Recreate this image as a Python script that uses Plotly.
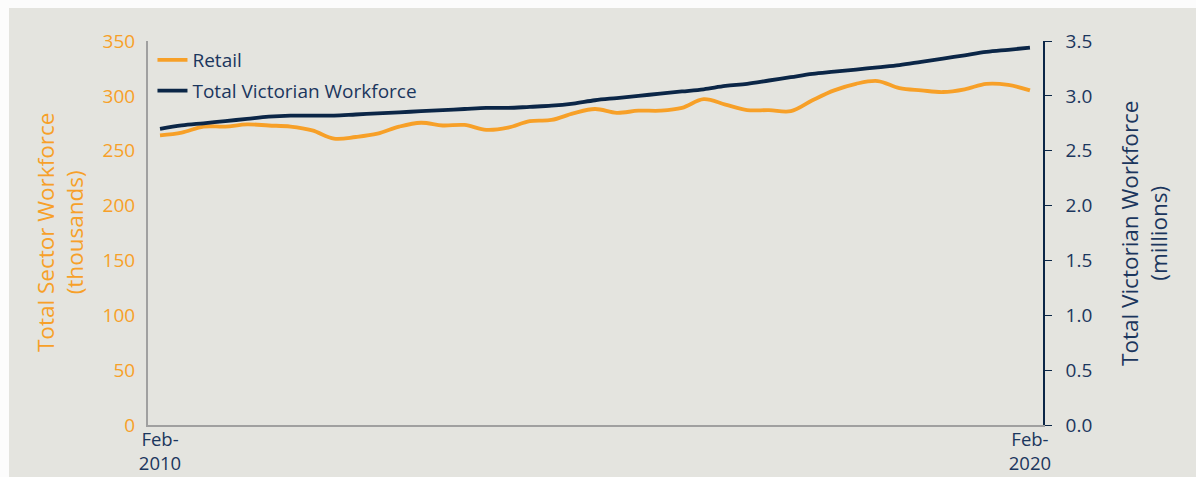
import plotly.graph_objects as go

quarters = []
for yr in range(2010, 2021):
    for m in ["Feb", "May", "Aug", "Nov"]:
        quarters.append(f"{m}-{yr}")
quarters = quarters[:41]

retail_thousands = [264, 266.5, 272, 272, 274, 273, 272, 268.5, 261, 262.5,
                    265.5, 272, 275.5, 273, 273.5, 269, 271, 277, 278, 284,
                    288, 284.5, 286.5, 286.5, 289, 297, 292, 287, 287, 286,
                    296, 305, 311, 313.5, 307, 305, 303.5, 306, 311, 310, 305]

victoria_millions = [2.70, 2.73, 2.75, 2.77, 2.79, 2.81, 2.82, 2.82, 2.82, 2.83,
                     2.84, 2.85, 2.86, 2.87, 2.88, 2.89, 2.89, 2.90, 2.91, 2.93,
                     2.96, 2.98, 3.00, 3.02, 3.04, 3.06, 3.09, 3.11, 3.14, 3.17,
                     3.20, 3.22, 3.24, 3.26, 3.28, 3.31, 3.34, 3.37, 3.40, 3.42, 3.44]

tick_labels = ["Feb-<br>2010", "Feb-<br>2020"]

ORANGE = "#F7A028"
NAVY = "#0B2647"
NAVY_TXT = "#1B365D"
BG = "#E4E4DF"
EDGE = "#FCFCFC"
FONT = "Open Sans"

W, H = 1196, 477
ML, MR, MT, MB = 148, 153, 41, 52
PW, PH = W - ML - MR, H - MT - MB

fig = go.Figure()
fig.add_trace(go.Scatter(x=quarters, y=retail_thousands, name="Retail",
                         mode="lines", line=dict(color=ORANGE, width=3.8, shape="spline"),
                         yaxis="y", legendgroup="a"))
fig.add_trace(go.Scatter(x=quarters, y=victoria_millions, name="Total Victorian Workforce",
                         mode="lines", line=dict(color=NAVY, width=3.8, shape="spline"),
                         yaxis="y2", legendgroup="b"))

# light border strips along the top and left edges
x_left = -ML / PW
y_top = 1 + MT / PH
y_bot = -MB / PH
fig.add_annotation(text="\u00a0", xref="paper", yref="paper", x=x_left, y=y_top,
                   xanchor="left", yanchor="top", showarrow=False,
                   width=W, height=8, bgcolor=EDGE, borderpad=0, borderwidth=0,
                   font=dict(size=4))
fig.add_annotation(text="\u00a0", xref="paper", yref="paper", x=x_left, y=y_bot,
                   xanchor="left", yanchor="bottom", showarrow=False,
                   width=9, height=H, bgcolor=EDGE, borderpad=0, borderwidth=0,
                   font=dict(size=4))

fig.add_annotation(text="Total Sector Workforce<br>(thousands)", textangle=-90,
                   xref="paper", yref="paper", x=-0.0983, y=0.5,
                   xanchor="center", yanchor="middle", showarrow=False,
                   font=dict(size=22.5, color=ORANGE))
fig.add_annotation(text="Total Victorian Workforce<br>(millions)", textangle=-90,
                   xref="paper", yref="paper", x=1.1128, y=0.5,
                   xanchor="center", yanchor="middle", showarrow=False,
                   font=dict(size=22.5, color=NAVY_TXT))

fig.update_layout(
    width=W, height=H,
    margin=dict(l=ML, r=MR, t=MT, b=MB),
    paper_bgcolor=BG,
    plot_bgcolor="rgba(0,0,0,0)",
    font=dict(family=FONT, size=19, color=NAVY_TXT),
    showlegend=True,
    legend=dict(x=0.005, y=1.0, xanchor="left", yanchor="top",
                bgcolor="rgba(0,0,0,0)", font=dict(size=19, color=NAVY_TXT),
                itemwidth=30, tracegroupgap=3),
    xaxis=dict(type="category", range=[-0.552, 40.6], automargin=False,
               tickmode="array", tickvals=[quarters[0], quarters[40]], ticktext=tick_labels,
               showgrid=False, showline=True, linecolor="#A0A0A0", linewidth=2,
               ticks="", ticklabelstandoff=-3,
               tickfont=dict(size=18.5, color=NAVY_TXT), zeroline=False),
    yaxis=dict(range=[0, 350], dtick=50, showgrid=False, showline=True, automargin=False,
               linecolor="#A0A0A0", linewidth=2, ticks="", zeroline=False,
               ticklabelstandoff=7,
               tickfont=dict(size=19, color=ORANGE)),
    yaxis2=dict(range=[0, 3.5], dtick=0.5, tickformat=".1f", overlaying="y", side="right",
                showgrid=False, showline=True, linecolor=NAVY, linewidth=1.5, automargin=False,
                ticks="outside", ticklen=7, tickcolor=NAVY, zeroline=False,
                ticklabelstandoff=10,
                tickfont=dict(size=19, color=NAVY_TXT)),
)

fig.write_html("out.html")
